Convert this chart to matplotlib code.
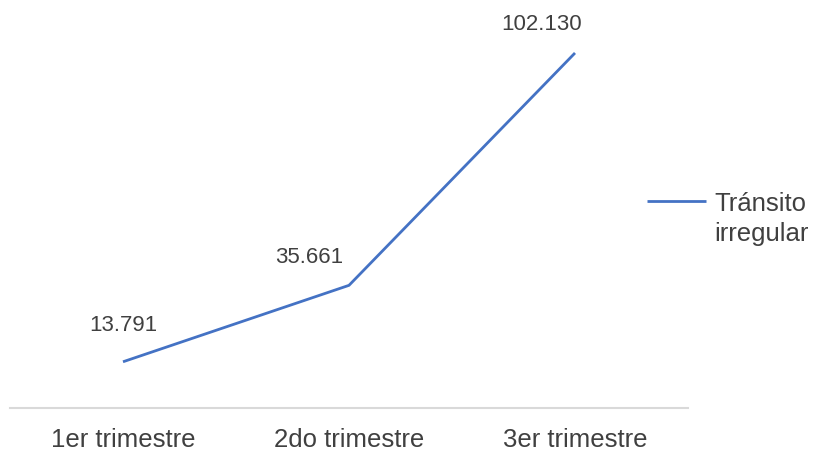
import matplotlib.pyplot as plt
from matplotlib.lines import Line2D

plt.rcParams['font.family'] = ['Liberation Sans', 'DejaVu Sans']

trimestres = ['1er trimestre', '2do trimestre', '3er trimestre']
transito = [13.791, 35.661, 102.130]
etiquetas = ['13.791', '35.661', '102.130']
serie = ['Tránsito', 'irregular']

fig = plt.figure(figsize=(8.19, 4.52), dpi=100)
ax = fig.add_axes([10 / 819, 1 - 409 / 452, 678 / 819, 409 / 452])

x = range(len(trimestres))
linea, = ax.plot(x, transito, color='#4472C4', linewidth=2.0, solid_capstyle='butt')

# data labels (Excel puts the later ones slightly left of the point)
offsets = [(0, 37), (-40, 29), (-33, 29)]
for xi, yi, txt, off in zip(x, transito, etiquetas, offsets):
    ax.annotate(txt, (xi, yi), xytext=off, textcoords='offset pixels',
                ha='center', va='center', fontsize=16, color='#404040')

ax.set_xlim(-0.5, 2.5)
ax.set_ylim(0.57, 117.57)
ax.set_xticks(list(x))
ax.set_xticklabels(trimestres, fontsize=18.5, color='#404040')
ax.tick_params(axis='x', length=0, pad=14)
ax.set_yticks([])
for side in ['left', 'right', 'top']:
    ax.spines[side].set_visible(False)
ax.spines['bottom'].set_color('#D9D9D9')
ax.spines['bottom'].set_linewidth(1.5)

# legend: key line sits next to the first line of the wrapped name
vacio = Line2D([], [], color='none')
fig.legend([linea, vacio], serie, loc='center left',
           bbox_to_anchor=(624 / 819, 1 - 219 / 452),
           frameon=False, fontsize=18.5, handlelength=2.3, handletextpad=0.3,
           labelspacing=0.2, labelcolor='#404040')

plt.savefig('out.png', dpi=100)
plt.close()
